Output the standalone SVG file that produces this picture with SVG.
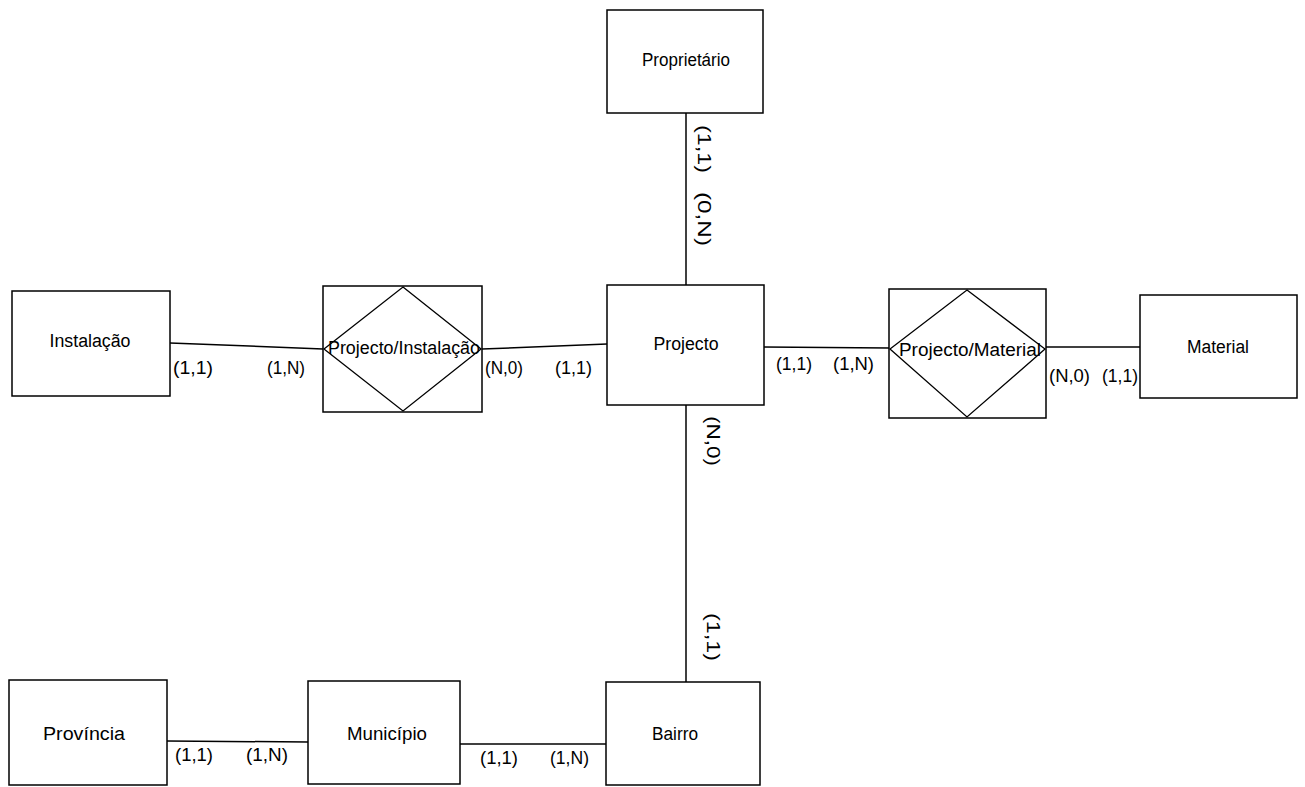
<svg xmlns="http://www.w3.org/2000/svg" width="1305" height="787" viewBox="0 0 1305 787">
<style>
.box{fill:#fff;stroke:#000;stroke-width:1.5}
.dia{fill:none;stroke:#000;stroke-width:1.3}
.ln{fill:none;stroke:#000;stroke-width:1.5}
text{font-family:"Liberation Sans Narrow","Liberation Sans",Arial,sans-serif;font-size:18px;fill:#000}
.c{text-anchor:middle}
</style>
<rect width="1305" height="787" fill="#fff"/>
<g id="proprietario">
<rect class="box" x="607" y="10" width="156" height="103"/>
<text class="c" x="686" y="66" textLength="88" lengthAdjust="spacingAndGlyphs">Proprietário</text>
</g>
<g id="instalacao">
<rect class="box" x="12" y="291" width="158" height="105"/>
<text class="c" x="90" y="347" textLength="81" lengthAdjust="spacingAndGlyphs">Instalação</text>
</g>
<g id="projecto-instalacao">
<rect class="box" x="323" y="286" width="159" height="126"/>
<polygon class="dia" points="403,287 481,349 403,411 324,349"/>
<text class="c" x="404" y="354" textLength="152" lengthAdjust="spacingAndGlyphs">Projecto/Instalação</text>
</g>
<g id="projecto">
<rect class="box" x="607" y="285" width="157" height="120"/>
<text class="c" x="686" y="350" textLength="65" lengthAdjust="spacingAndGlyphs">Projecto</text>
</g>
<g id="projecto-material">
<rect class="box" x="889" y="289" width="157" height="129"/>
<polygon class="dia" points="967,290 1045,349 967,417 890,349"/>
<text class="c" x="970" y="356" textLength="142" lengthAdjust="spacingAndGlyphs">Projecto/Material</text>
</g>
<g id="material">
<rect class="box" x="1140" y="295" width="157" height="103"/>
<text class="c" x="1218" y="353" textLength="62" lengthAdjust="spacingAndGlyphs">Material</text>
</g>
<g id="provincia">
<rect class="box" x="9" y="680" width="158" height="105"/>
<text class="c" x="84" y="740" textLength="82" lengthAdjust="spacingAndGlyphs">Província</text>
</g>
<g id="municipio">
<rect class="box" x="308" y="681" width="152" height="103"/>
<text class="c" x="387" y="740" textLength="80" lengthAdjust="spacingAndGlyphs">Município</text>
</g>
<g id="bairro">
<rect class="box" x="606" y="682" width="154" height="103"/>
<text class="c" x="675" y="740" textLength="46" lengthAdjust="spacingAndGlyphs">Bairro</text>
</g>
<g id="connectors">
<line class="ln" x1="686" y1="113" x2="686" y2="285"/>
<line class="ln" x1="170" y1="343" x2="323" y2="349"/>
<line class="ln" x1="482" y1="349" x2="607" y2="344"/>
<line class="ln" x1="764" y1="347" x2="889" y2="348"/>
<line class="ln" x1="1046" y1="347" x2="1140" y2="347"/>
<line class="ln" x1="686" y1="405" x2="686" y2="682"/>
<line class="ln" x1="167" y1="741" x2="308" y2="742"/>
<line class="ln" x1="460" y1="744" x2="606" y2="744"/>
<text x="173" y="374" textLength="40" lengthAdjust="spacingAndGlyphs">(1,1)</text>
<text x="267" y="374" textLength="38" lengthAdjust="spacingAndGlyphs">(1,N)</text>
<text x="485" y="374" textLength="38" lengthAdjust="spacingAndGlyphs">(N,0)</text>
<text x="555" y="374" textLength="37" lengthAdjust="spacingAndGlyphs">(1,1)</text>
<text x="776" y="370" textLength="36" lengthAdjust="spacingAndGlyphs">(1,1)</text>
<text x="833" y="370" textLength="41" lengthAdjust="spacingAndGlyphs">(1,N)</text>
<text x="1049" y="382" textLength="41" lengthAdjust="spacingAndGlyphs">(N,0)</text>
<text x="1102" y="382" textLength="36" lengthAdjust="spacingAndGlyphs">(1,1)</text>
<text x="175" y="761" textLength="38" lengthAdjust="spacingAndGlyphs">(1,1)</text>
<text x="246" y="761" textLength="42" lengthAdjust="spacingAndGlyphs">(1,N)</text>
<text x="480" y="764" textLength="38" lengthAdjust="spacingAndGlyphs">(1,1)</text>
<text x="550" y="764" textLength="39" lengthAdjust="spacingAndGlyphs">(1,N)</text>
<text transform="translate(698,125) rotate(90)" textLength="48" lengthAdjust="spacingAndGlyphs">(1,1)</text>
<text transform="translate(698,192) rotate(90)" textLength="54" lengthAdjust="spacingAndGlyphs">(0,N)</text>
<text transform="translate(707,416) rotate(90)" textLength="50" lengthAdjust="spacingAndGlyphs">(N,0)</text>
<text transform="translate(707,613) rotate(90)" textLength="48" lengthAdjust="spacingAndGlyphs">(1,1)</text>
</g>
</svg>
